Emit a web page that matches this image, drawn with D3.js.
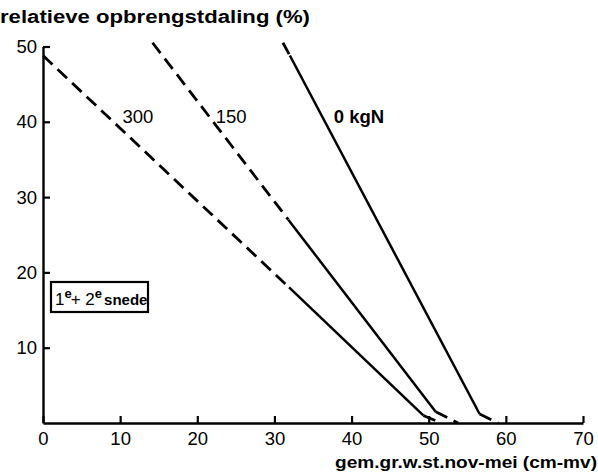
<!DOCTYPE html>
<html>
<head>
<meta charset="utf-8">
<script src="https://cdn.jsdelivr.net/npm/d3@7"></script>
<style>
  html, body { margin: 0; padding: 0; background: #fff; }
  svg { display: block; }
  text { font-family: "Liberation Sans", Arial, Helvetica, sans-serif; fill: #000; }
</style>
</head>
<body>
<svg id="chart" width="598" height="472"></svg>
<script>
// ---- data ----
const xTicks = [0, 10, 20, 30, 40, 50, 60, 70];
const yTicks = [10, 20, 30, 40, 50];
const seriesLabels = ["0 kgN", "150", "300"];
const labelPos = [[37.7, 39.9], [22.4, 39.9], [10.3, 39.9]];
// each line: dashed extrapolation at top, solid measured part, dashed tail at bottom
const line0Top = [[31.1, 50.5], [32.0, 48.8]];
const line0Mid = [[32.0, 48.8], [56.6, 1.2]];
const line0Tail = [[56.6, 1.2], [59.0, 0]];
const line150Top = [[14.2, 50.5], [31.8, 27.0]];
const line150Mid = [[31.8, 27.0], [50.9, 1.5]];
const line150Tail = [[50.9, 1.5], [53.8, 0]];
const line300Top = [[0.0, 48.8], [31.9, 18.0]];
const line300Mid = [[31.9, 18.0], [49.3, 1.0]];
const line300Tail = [[49.3, 1.0], [51.6, 0]];
const titleY = "relatieve opbrengstdaling (%)";
const titleX = "gem.gr.w.st.nov-mei (cm-mv)";

// ---- chart ----
const svg = d3.select("#chart");
const x = d3.scaleLinear().domain([0, 70]).range([43, 583]);
const y = d3.scaleLinear().domain([0, 50]).range([423, 46.5]);

const xAxis = svg.append("g").attr("transform", `translate(0,${y(0)})`)
  .call(d3.axisBottom(x).tickValues(xTicks).tickSizeInner(-7).tickSizeOuter(0).tickPadding(9));
const yAxis = svg.append("g").attr("transform", `translate(${x(0)},0)`)
  .call(d3.axisLeft(y).tickValues(yTicks).tickSizeInner(-7).tickSizeOuter(0).tickPadding(6));
[xAxis, yAxis].forEach(g => {
  g.selectAll("path.domain").attr("stroke", "#000").attr("stroke-width", 2.4);
  g.selectAll(".tick line").attr("stroke", "#000").attr("stroke-width", 2.2);
  g.selectAll(".tick text").attr("font-size", 18.5).attr("fill", "#000")
    .attr("font-family", "'Liberation Sans', Arial, sans-serif");
});

const lineGen = d3.line().x(d => x(d[0])).y(d => y(d[1]));
const dashed = [line0Top, line0Tail, line150Top, line150Tail, line300Top, line300Tail];
const solid = [line0Mid, line150Mid, line300Mid];
svg.append("g").selectAll("path").data(dashed).join("path")
  .attr("d", lineGen).attr("fill", "none").attr("stroke", "#000")
  .attr("stroke-width", 2.8).attr("stroke-dasharray", "13,7");
svg.append("g").selectAll("path").data(solid).join("path")
  .attr("d", lineGen).attr("fill", "none").attr("stroke", "#000")
  .attr("stroke-width", 2.5);

// series labels
svg.append("g").selectAll("text").data(seriesLabels).join("text")
  .attr("x", (d, i) => x(labelPos[i][0]))
  .attr("y", (d, i) => y(labelPos[i][1]))
  .attr("font-size", 18.5)
  .attr("font-weight", (d, i) => i === 0 ? "bold" : "normal")
  .text(d => d);

// titles
svg.append("text").attr("x", 0).attr("y", 23)
  .attr("font-size", 18).attr("font-weight", "bold")
  .attr("textLength", 310).attr("lengthAdjust", "spacingAndGlyphs")
  .text(titleY);
svg.append("text").attr("x", 597).attr("y", 468).attr("text-anchor", "end")
  .attr("font-size", 16.5).attr("font-weight", "bold")
  .attr("textLength", 262).attr("lengthAdjust", "spacingAndGlyphs")
  .text(titleX);

// legend box "1e + 2e snede"
const box = svg.append("g");
box.append("rect").attr("x", 51).attr("y", 282).attr("width", 97).attr("height", 30)
  .attr("fill", "none").attr("stroke", "#000").attr("stroke-width", 2.2);
const t = box.append("text").attr("x", 55).attr("y", 305).attr("font-size", 17);
t.append("tspan").text("1");
t.append("tspan").attr("dy", -7).attr("font-size", 13).attr("font-weight", "bold").text("e");
t.append("tspan").attr("dy", 7).attr("dx", -1).text("+ 2");
t.append("tspan").attr("dy", -7).attr("font-size", 13).attr("font-weight", "bold").text("e");
t.append("tspan").attr("dy", 7).attr("dx", 2).attr("font-weight", "bold").attr("font-size", 15).text("snede");
</script>
</body>
</html>
